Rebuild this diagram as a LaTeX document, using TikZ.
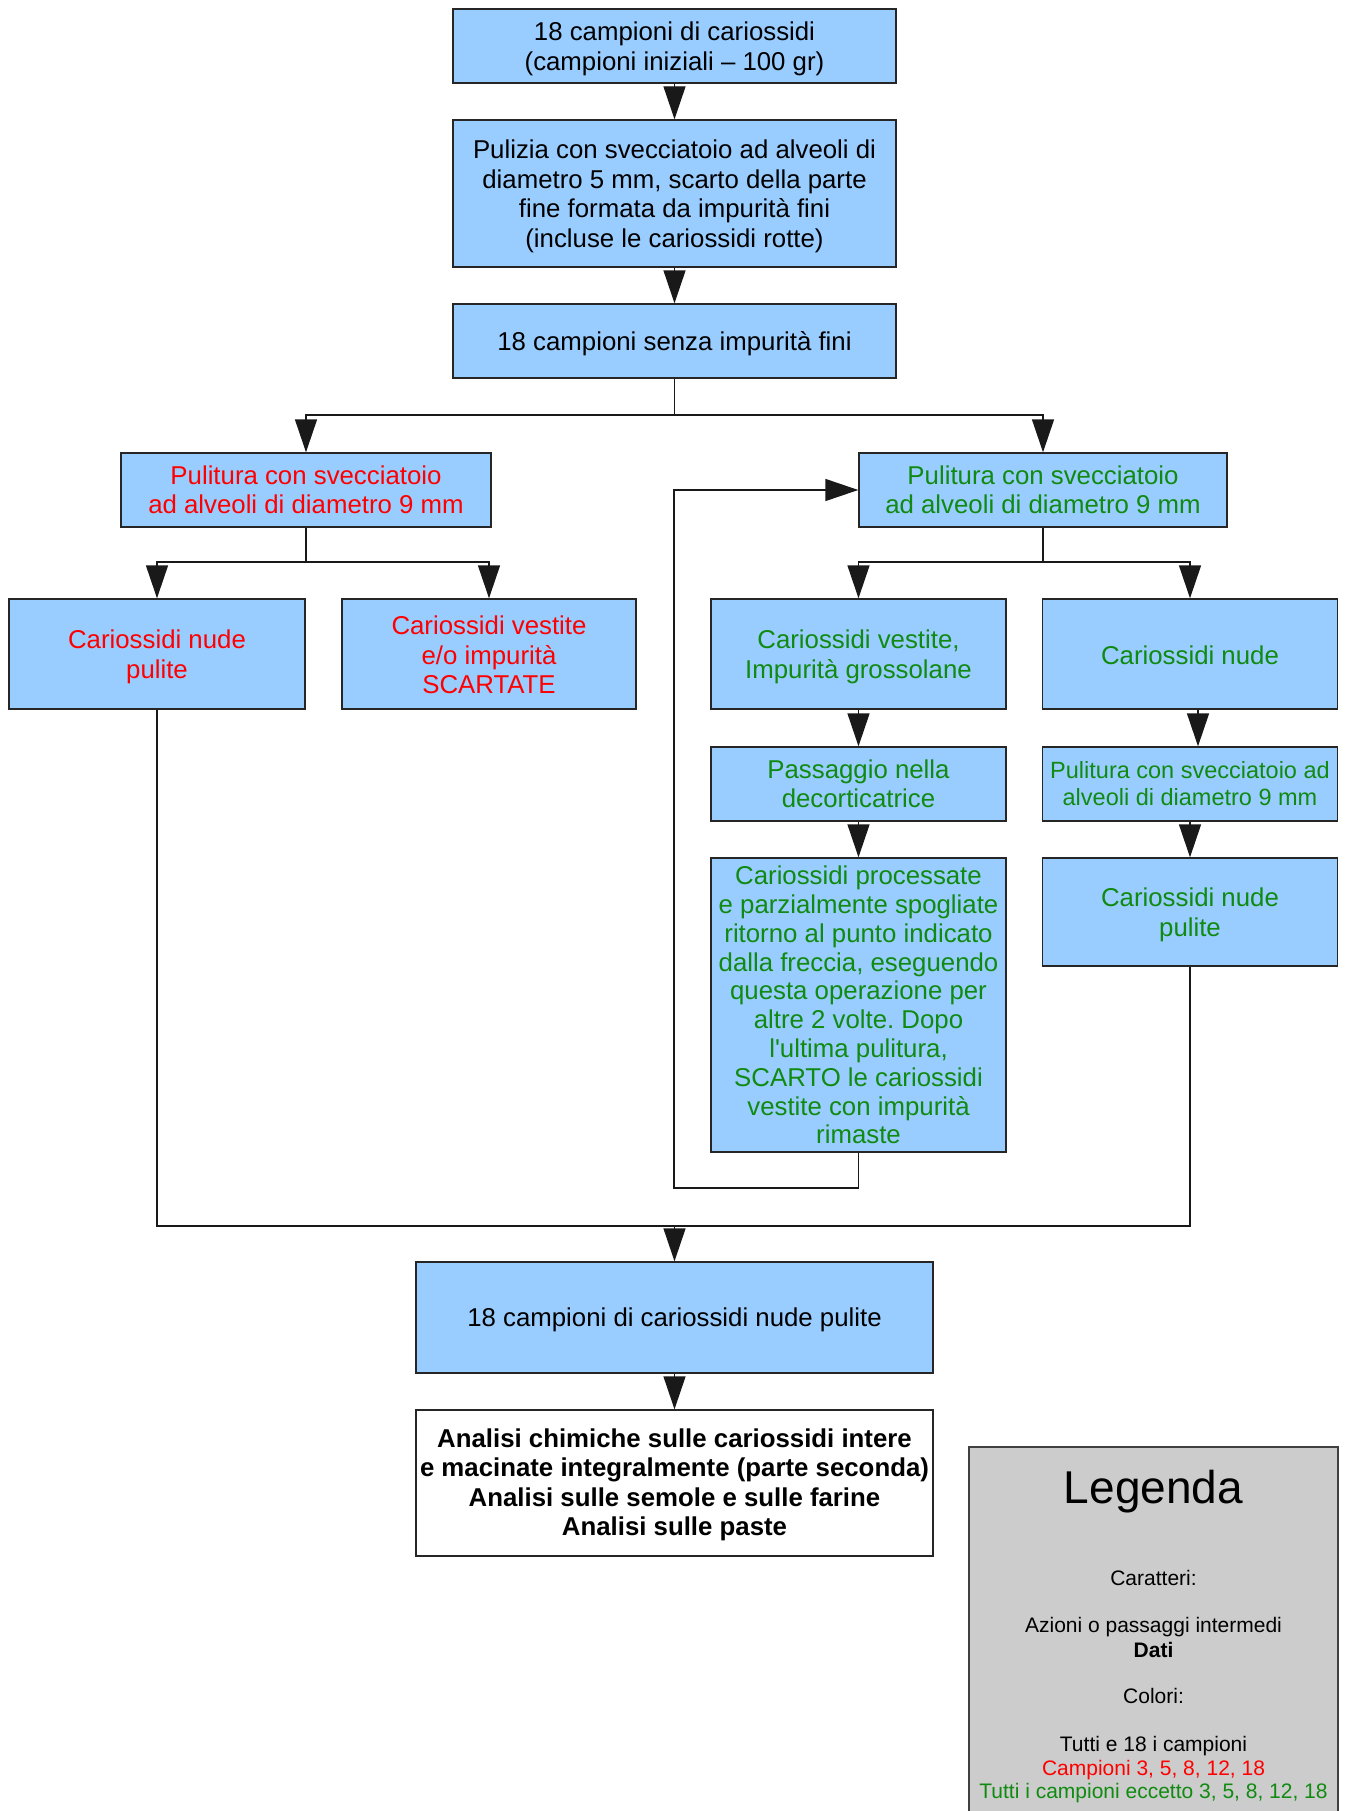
\documentclass[tikz,border=0pt]{standalone}
\usepackage{fontspec}
\setmainfont{Liberation Sans}
\usetikzlibrary{arrows.meta}
\definecolor{boxblue}{HTML}{99CCFF}
\definecolor{legendgray}{HTML}{CCCCCC}
\definecolor{txtred}{HTML}{FF0000}
\definecolor{txtgreen}{HTML}{108A10}
\newcommand\mainsize{\fontsize{25.8pt}{29.5pt}\selectfont}
% a framed box: #1 text drop, #2 name, #3 centre, #4 box options, #5 text options, #6 text
\newcommand\flowbox[6][3pt]{%
  \node[bx,#4] (#2) at #3 {};
  \node[bxtext,#5] (#2-text) at ([yshift=-#1]#2.center) {#6};
}
\begin{document}
\frenchspacing
\begin{tikzpicture}[x=1pt,y=-1pt,
  bx/.style={draw=black!85, line width=1.4pt, fill=boxblue, inner sep=0pt},
  bxtext/.style={inner sep=0pt, align=center, font=\mainsize},
  redtxt/.style={text=txtred},
  greentxt/.style={text=txtgreen},
  link/.style={draw=black!90, line width=1.4pt},
  arr/.style={link, -{Triangle[length=33pt,width=22pt]}},
  lgtxt/.style={anchor=base, inner sep=0pt, font=\fontsize{21pt}{23.5pt}\selectfont}
]
\clip (0,0) rectangle (1345,1811);
\fill[white] (0,0) rectangle (1345,1811);

% main chain
\flowbox{n1}{(674.5,46)}{minimum width=443pt, minimum height=74pt}{}
  {18 campioni di cariossidi\\(campioni iniziali – 100 gr)}
\flowbox{n2}{(674.5,193.5)}{minimum width=443pt, minimum height=147pt}{}
  {Pulizia con svecciatoio ad alveoli di\\diametro 5 mm, scarto della parte\\fine formata da impurità fini\\(incluse le cariossidi rotte)}
\flowbox{n3}{(674.5,341)}{minimum width=443pt, minimum height=74pt}{}
  {18 campioni senza impurità fini}

% first sorting
\flowbox[0pt]{rP}{(306,490)}{minimum width=370pt, minimum height=74pt}{redtxt}
  {Pulitura con svecciatoio\\ad alveoli di diametro 9 mm}
\flowbox[0pt]{gP}{(1043,490)}{minimum width=368pt, minimum height=74pt}{greentxt}
  {Pulitura con svecciatoio\\ad alveoli di diametro 9 mm}

% red branch
\flowbox{rN}{(157,654)}{minimum width=296pt, minimum height=110pt}{redtxt}
  {Cariossidi nude\\pulite}
\flowbox[1pt]{rS}{(489,654)}{minimum width=294pt, minimum height=110pt}{redtxt}
  {Cariossidi vestite\\e/o impurità\\SCARTATE}

% green branch
\flowbox{gV}{(858.5,654)}{minimum width=295pt, minimum height=110pt}{greentxt}
  {Cariossidi vestite,\\Impurità grossolane}
\flowbox[1pt]{gN}{(1190,654)}{minimum width=295pt, minimum height=110pt}{greentxt}
  {Cariossidi nude}
\flowbox[0pt]{gD}{(858.5,784)}{minimum width=295pt, minimum height=74pt}{greentxt}
  {Passaggio nella\\decorticatrice}
\flowbox[0pt]{gQ}{(1190,784)}{minimum width=295pt, minimum height=74pt}
  {greentxt, font=\fontsize{23.5pt}{27pt}\selectfont}
  {Pulitura con svecciatoio ad\\alveoli di diametro 9 mm}
\flowbox[0pt]{gR}{(858.5,1005)}{minimum width=295pt, minimum height=294pt}
  {greentxt, font=\fontsize{25.8pt}{28.8pt}\selectfont}
  {Cariossidi processate\\e parzialmente spogliate\\ritorno al punto indicato\\dalla freccia, eseguendo\\questa operazione per\\altre 2 volte. Dopo\\l\textquotesingle ultima pulitura,\\SCARTO le cariossidi\\vestite con impurità\\rimaste}
\flowbox{gC}{(1190,912)}{minimum width=295pt, minimum height=108pt}{greentxt}
  {Cariossidi nude\\pulite}

% final steps
\flowbox[2pt]{fin}{(674.5,1317.5)}{minimum width=517pt, minimum height=111pt}{}
  {18 campioni di cariossidi nude pulite}
\flowbox[2pt]{an}{(674.5,1483)}{fill=white, minimum width=517pt, minimum height=146pt}
  {font=\mainsize\bfseries}
  {Analisi chimiche sulle cariossidi intere\\e macinate integralmente (parte seconda)\\Analisi sulle semole e sulle farine\\Analisi sulle paste}

% legend
\node[draw=black!75, line width=1.4pt, fill=legendgray, inner sep=0pt,
  minimum width=369pt, minimum height=400pt] (legend) at (1153.5,1647) {};
\node[lgtxt, font=\fontsize{46pt}{50pt}\selectfont] (lgA) at (1153.5,1503) {Legenda};
\node[lgtxt] (lgB) at (1153.5,1585) {Caratteri:};
\node[lgtxt] (lgC) at (1153.5,1632) {Azioni o passaggi intermedi};
\node[lgtxt, font=\fontsize{21pt}{23.5pt}\selectfont\bfseries] (lgD) at (1153.5,1657) {Dati};
\node[lgtxt] (lgE) at (1153.5,1703) {Colori:};
\node[lgtxt] (lgF) at (1153.5,1751) {Tutti e 18 i campioni};
\node[lgtxt, text=txtred] (lgG) at (1153.5,1775) {Campioni 3, 5, 8, 12, 18};
\node[lgtxt, text=txtgreen] (lgH) at (1153.5,1798) {Tutti i campioni eccetto 3, 5, 8, 12, 18};

% junction points
\coordinate (s1) at (674.5,415);
\coordinate (s2) at (306,562);
\coordinate (s3) at (1043,562);
\coordinate (loopc) at (674,1188);
\coordinate (m) at (674.5,1226);

% connectors
\draw[arr] (n1.south) -- (n2.north);
\draw[arr] (n2.south) -- (n3.north);
\draw[link] (n3.south) -- (s1);
\draw[arr] (s1) -| (rP.north);
\draw[arr] (s1) -| (gP.north);

\draw[link] (rP.south) -- (s2);
\draw[arr] (s2) -| (rN.north);
\draw[arr] (s2) -| (rS.north);

\draw[link] (gP.south) -- (s3);
\draw[arr] (s3) -| (gV.north);
\draw[arr] (s3) -| (gN.north);

\draw[arr] (gV.south) -- (gD.north);
\draw[arr] (gD.south) -- (gR.north);
\draw[arr] ([xshift=8pt]gN.south) -- ([xshift=8pt]gQ.north);
\draw[arr] (gQ.south) -- (gC.north);

\draw[arr] (gR.south) |- (loopc) |- (gP.west);

\draw[link] (rN.south) |- (m);
\draw[link] (gC.south) |- (m);
\draw[arr] (m) -- (fin.north);
\draw[arr] (fin.south) -- (an.north);
\end{tikzpicture}
\end{document}
